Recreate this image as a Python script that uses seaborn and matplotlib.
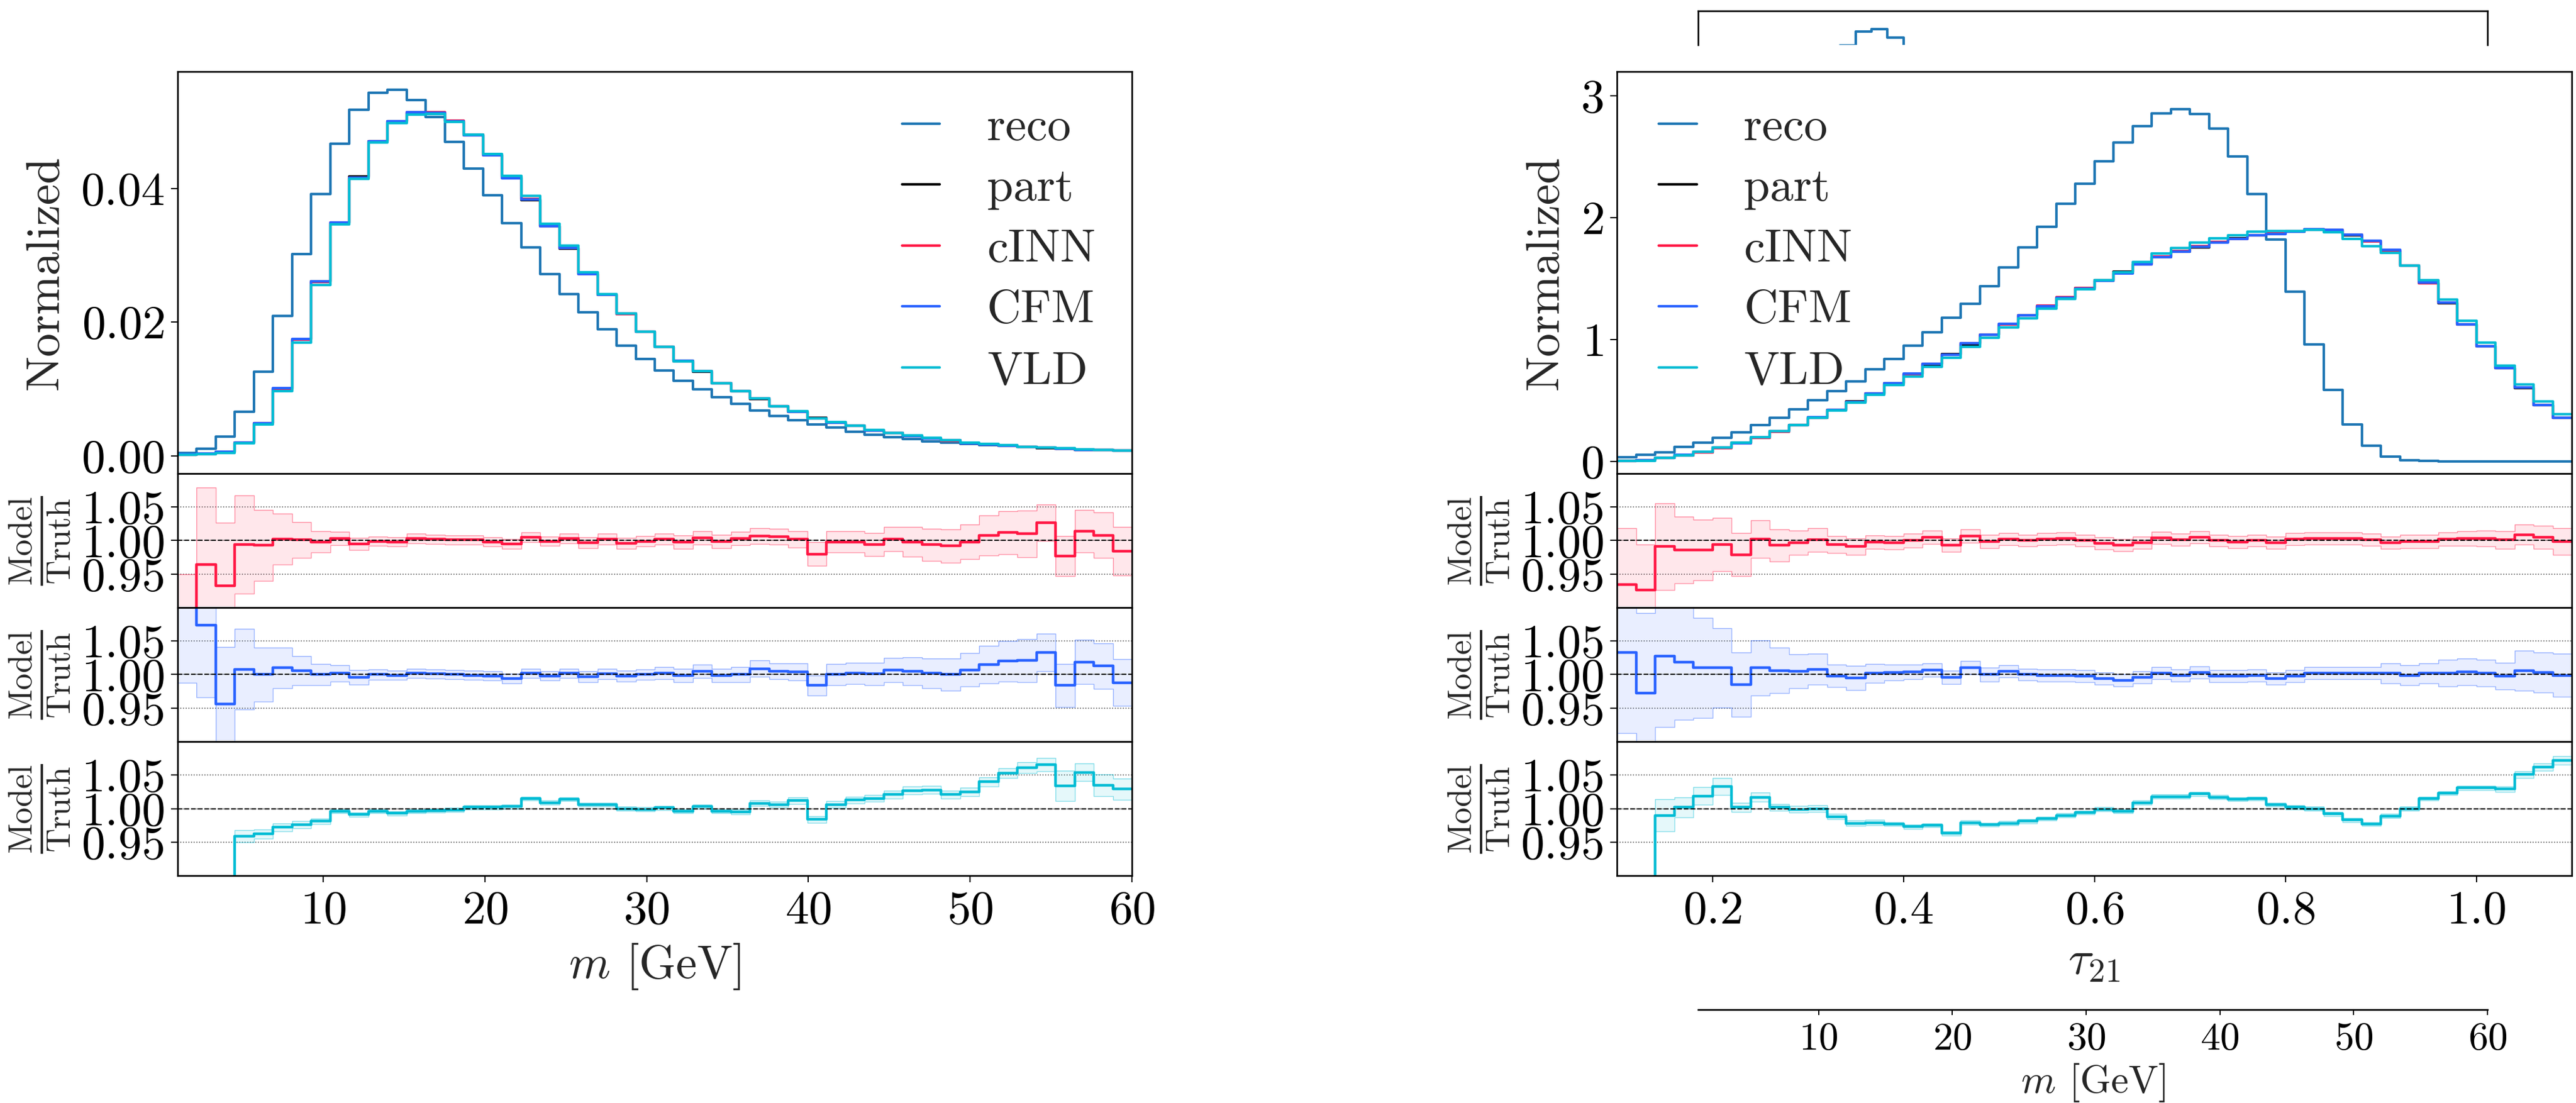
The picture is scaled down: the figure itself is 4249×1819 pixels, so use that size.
import numpy as np
import matplotlib
matplotlib.use("Agg")
import matplotlib.pyplot as plt
import seaborn as sns

# ---------------------------------------------------------------- data
m_edges = np.linspace(1.0, 60.0, 51)
tau_edges = np.linspace(0.1, 1.1, 51)

m_reco = [0.0004, 0.0011, 0.0029, 0.0066, 0.0126, 0.0209, 0.0302, 0.0392, 0.0467, 0.0518,
          0.0543, 0.0548, 0.0532, 0.0507, 0.0470, 0.0430, 0.0390, 0.0348, 0.0312, 0.0272,
          0.0242, 0.0215, 0.0189, 0.0165, 0.0145, 0.0128, 0.0112, 0.0100, 0.0088, 0.0078,
          0.0068, 0.0060, 0.0053, 0.0047, 0.0042, 0.0036, 0.0032, 0.0028, 0.0025, 0.0022,
          0.0020, 0.0018, 0.0016, 0.0015, 0.0013, 0.0012, 0.0011, 0.0009, 0.0009, 0.0008]
m_part = [0.0002, 0.0003, 0.0006, 0.0020, 0.0049, 0.0100, 0.0174, 0.0261, 0.0348, 0.0418,
          0.0471, 0.0501, 0.0513, 0.0513, 0.0501, 0.0480, 0.0451, 0.0418, 0.0383, 0.0344,
          0.0310, 0.0273, 0.0241, 0.0213, 0.0186, 0.0163, 0.0142, 0.0126, 0.0109, 0.0097,
          0.0085, 0.0074, 0.0066, 0.0057, 0.0050, 0.0045, 0.0038, 0.0034, 0.0030, 0.0026,
          0.0023, 0.0019, 0.0017, 0.0015, 0.0013, 0.0012, 0.0011, 0.0009, 0.0009, 0.0008]

m_cinn_ratio = [0.870, 0.964, 0.933, 0.994, 0.993, 1.002, 1.001, 0.998, 1.003, 0.995,
                0.999, 0.998, 1.003, 1.002, 1.001, 1.001, 0.998, 0.995, 1.005, 0.999,
                1.003, 0.997, 1.002, 0.996, 0.999, 1.002, 0.998, 1.004, 0.999, 1.003,
                1.007, 1.006, 1.002, 0.980, 0.998, 0.998, 0.994, 1.002, 0.998, 0.994,
                0.992, 0.998, 1.008, 1.012, 1.010, 1.027, 0.977, 1.014, 1.008, 0.984]
m_cinn_err = [0.080, 0.115, 0.094, 0.073, 0.053, 0.038, 0.027, 0.016, 0.010, 0.009,
              0.007, 0.007, 0.007, 0.007, 0.007, 0.007, 0.007, 0.007, 0.007, 0.007,
              0.007, 0.008, 0.008, 0.008, 0.008, 0.008, 0.010, 0.010, 0.010, 0.010,
              0.012, 0.012, 0.012, 0.018, 0.016, 0.016, 0.017, 0.018, 0.022, 0.024,
              0.025, 0.026, 0.030, 0.032, 0.035, 0.027, 0.030, 0.032, 0.034, 0.036]
m_cfm_ratio = [1.130, 1.074, 0.956, 1.008, 1.000, 1.010, 1.006, 1.000, 1.002, 0.996,
               1.000, 0.999, 1.002, 1.001, 1.000, 0.999, 0.998, 0.994, 1.002, 0.998,
               1.002, 0.997, 1.001, 0.998, 1.000, 1.002, 0.999, 1.005, 0.999, 1.000,
               1.009, 1.005, 1.004, 0.984, 1.000, 1.002, 1.001, 1.007, 1.005, 1.002,
               1.000, 1.007, 1.015, 1.020, 1.021, 1.033, 0.984, 1.019, 1.013, 0.988]
m_cfm_err = [0.142, 0.108, 0.085, 0.060, 0.040, 0.030, 0.022, 0.016, 0.012, 0.011,
             0.008, 0.007, 0.007, 0.007, 0.007, 0.007, 0.007, 0.007, 0.007, 0.007,
             0.007, 0.008, 0.008, 0.008, 0.008, 0.009, 0.010, 0.010, 0.010, 0.011,
             0.012, 0.012, 0.013, 0.015, 0.016, 0.016, 0.017, 0.018, 0.021, 0.022,
             0.024, 0.025, 0.028, 0.030, 0.032, 0.028, 0.032, 0.033, 0.034, 0.035]
m_vld_ratio = [0.700, 0.700, 0.700, 0.959, 0.962, 0.972, 0.976, 0.981, 0.996, 0.991,
               0.996, 0.993, 0.996, 0.997, 0.998, 1.002, 1.002, 1.003, 1.015, 1.009,
               1.014, 1.006, 1.006, 1.000, 0.999, 1.001, 0.996, 1.003, 0.996, 0.995,
               1.008, 1.006, 1.012, 0.984, 1.006, 1.013, 1.015, 1.021, 1.027, 1.028,
               1.021, 1.025, 1.040, 1.053, 1.061, 1.066, 1.034, 1.054, 1.035, 1.029]
m_vld_err = [0.010, 0.010, 0.010, 0.009, 0.007, 0.006, 0.005, 0.004, 0.003, 0.003,
             0.003, 0.003, 0.003, 0.003, 0.003, 0.003, 0.003, 0.003, 0.003, 0.003,
             0.003, 0.003, 0.003, 0.003, 0.003, 0.003, 0.003, 0.003, 0.003, 0.004,
             0.004, 0.004, 0.005, 0.005, 0.005, 0.005, 0.005, 0.006, 0.006, 0.006,
             0.006, 0.006, 0.007, 0.007, 0.008, 0.010, 0.023, 0.013, 0.016, 0.016]

tau_reco = [0.036, 0.056, 0.076, 0.117, 0.152, 0.195, 0.239, 0.299, 0.360, 0.429,
            0.500, 0.576, 0.657, 0.754, 0.843, 0.952, 1.058, 1.178, 1.294, 1.439,
            1.591, 1.756, 1.926, 2.117, 2.277, 2.462, 2.619, 2.754, 2.855, 2.893,
            2.853, 2.734, 2.505, 2.195, 1.820, 1.393, 0.962, 0.589, 0.305, 0.127,
            0.041, 0.010, 0.003, 0.002, 0.001, 0.001, 0.000, 0.000, 0.000, 0.000]
tau_part = [0.005, 0.010, 0.030, 0.051, 0.076, 0.112, 0.152, 0.195, 0.246, 0.297,
            0.360, 0.424, 0.492, 0.558, 0.640, 0.716, 0.797, 0.881, 0.962, 1.041,
            1.122, 1.198, 1.274, 1.345, 1.421, 1.490, 1.558, 1.622, 1.675, 1.723,
            1.756, 1.799, 1.832, 1.858, 1.878, 1.888, 1.901, 1.896, 1.858, 1.807,
            1.731, 1.609, 1.464, 1.299, 1.122, 0.944, 0.766, 0.601, 0.462, 0.360]

tau_cinn_ratio = [0.934, 0.926, 0.991, 0.986, 0.986, 0.994, 0.979, 1.002, 0.993, 0.997,
                  1.001, 0.994, 0.991, 0.998, 0.997, 1.000, 1.005, 0.993, 1.007, 0.999,
                  1.002, 1.000, 1.002, 1.003, 1.000, 0.996, 0.993, 0.997, 1.004, 1.001,
                  1.005, 1.000, 0.998, 1.000, 0.997, 1.002, 1.003, 1.003, 1.003, 1.001,
                  0.997, 0.999, 0.999, 1.002, 1.003, 1.003, 1.001, 1.009, 1.005, 0.999]
tau_cinn_err = [0.085, 0.068, 0.065, 0.050, 0.045, 0.040, 0.032, 0.028, 0.024, 0.018,
                0.018, 0.013, 0.012, 0.010, 0.010, 0.010, 0.010, 0.010, 0.010, 0.010,
                0.009, 0.009, 0.009, 0.009, 0.009, 0.009, 0.009, 0.009, 0.009, 0.009,
                0.009, 0.009, 0.009, 0.009, 0.009, 0.009, 0.009, 0.009, 0.009, 0.009,
                0.009, 0.010, 0.010, 0.010, 0.011, 0.012, 0.013, 0.015, 0.017, 0.020]
tau_cfm_ratio = [1.033, 0.972, 1.028, 1.019, 1.010, 1.010, 0.985, 1.010, 1.006, 1.005,
                 1.008, 0.998, 0.995, 1.002, 1.003, 1.004, 1.007, 0.996, 1.010, 1.000,
                 1.005, 1.000, 0.999, 0.999, 0.998, 0.994, 0.991, 0.996, 1.002, 0.999,
                 1.003, 0.998, 0.998, 0.999, 0.994, 0.998, 1.002, 1.002, 1.002, 1.002,
                 1.002, 0.999, 1.002, 1.002, 1.004, 1.002, 0.998, 1.006, 1.003, 0.999]
tau_cfm_err = [0.120, 0.120, 0.106, 0.086, 0.075, 0.059, 0.048, 0.041, 0.034, 0.025,
               0.023, 0.017, 0.018, 0.014, 0.012, 0.011, 0.010, 0.010, 0.010, 0.010,
               0.009, 0.009, 0.009, 0.009, 0.009, 0.009, 0.009, 0.009, 0.009, 0.009,
               0.009, 0.009, 0.009, 0.009, 0.009, 0.009, 0.009, 0.009, 0.009, 0.009,
               0.015, 0.015, 0.015, 0.020, 0.020, 0.020, 0.020, 0.030, 0.030, 0.032]
tau_vld_ratio = [0.700, 0.700, 0.990, 1.002, 1.019, 1.033, 1.002, 1.017, 1.002, 0.999,
                 1.000, 0.988, 0.978, 0.979, 0.977, 0.973, 0.975, 0.963, 0.979, 0.976,
                 0.978, 0.981, 0.985, 0.990, 0.994, 0.999, 0.996, 1.009, 1.018, 1.018,
                 1.022, 1.017, 1.014, 1.015, 1.006, 1.002, 1.000, 0.992, 0.983, 0.977,
                 0.989, 1.000, 1.015, 1.023, 1.031, 1.031, 1.029, 1.051, 1.062, 1.072]
tau_vld_err = [0.010, 0.010, 0.024, 0.015, 0.013, 0.013, 0.007, 0.007, 0.005, 0.005,
               0.005, 0.004, 0.004, 0.004, 0.003, 0.003, 0.003, 0.003, 0.003, 0.003,
               0.003, 0.003, 0.003, 0.003, 0.003, 0.003, 0.003, 0.003, 0.003, 0.003,
               0.003, 0.003, 0.003, 0.003, 0.003, 0.003, 0.003, 0.003, 0.003, 0.003,
               0.003, 0.003, 0.003, 0.003, 0.003, 0.003, 0.004, 0.005, 0.005, 0.006]

model_names = ["cINN", "CFM", "VLD"]
colors = {"reco": "#1f77b4", "part": "black",
          "cINN": "#ff1744", "CFM": "#2962ff", "VLD": "#00bcd4"}

# ---------------------------------------------------------------- style
sns.set_theme(style="ticks")
plt.rcParams.update({
    "font.family": ["cmr10", "DejaVu Serif"],
    "mathtext.fontset": "cm",
    "axes.formatter.use_mathtext": True,
    "axes.unicode_minus": False,
    "font.size": 56,
    "axes.linewidth": 1.9,
    "axes.edgecolor": "black",
    "xtick.color": "black", "ytick.color": "black",
    "xtick.major.size": 8, "ytick.major.size": 8,
    "xtick.major.width": 1.4, "ytick.major.width": 1.4,
    "xtick.major.pad": 10, "ytick.major.pad": 8,
    "xtick.labelsize": 56, "ytick.labelsize": 56,
    "axes.labelsize": 56,
    "legend.fontsize": 56,
})

FIG_W, FIG_H = 4249, 1819
fig = plt.figure(figsize=(FIG_W / 100, FIG_H / 100), dpi=100)


def px_rect(x0, y0, x1, y1):
    return [x0 / FIG_W, 1 - y1 / FIG_H, (x1 - x0) / FIG_W, (y1 - y0) / FIG_H]


def stairs(ax, edges, vals, **kw):
    vals = np.asarray(vals, dtype=float)
    sns.lineplot(x=edges, y=np.append(vals, vals[-1]), ax=ax, drawstyle="steps-post",
                 estimator=None, sort=False, **kw)


LW_MAIN = 3.0
ROWS = [118, 781, 1002, 1223, 1444]


def panel(x0, x1, edges, xlim, reco, part, ratios, errs, ylim, yticks, xlabel, legend_loc):
    axes = []
    main = fig.add_axes(px_rect(x0, ROWS[0], x1, ROWS[1]), zorder=2)
    axes.append(main)
    for k in range(3):
        axes.append(fig.add_axes(px_rect(x0, ROWS[k + 1], x1, ROWS[k + 2]),
                                 sharex=main, zorder=2))
    part = np.asarray(part)

    stairs(main, edges, reco, color=colors["reco"], lw=LW_MAIN, label="reco")
    stairs(main, edges, part, color=colors["part"], lw=LW_MAIN, label="part")
    for name in model_names:
        stairs(main, edges, part * np.asarray(ratios[name]), color=colors[name],
               lw=LW_MAIN, label=name)
    main.set_xlim(*xlim)
    main.set_ylim(*ylim)
    main.set_yticks(yticks)
    main.set_ylabel("Normalized", labelpad=16)
    main.tick_params(axis="x", bottom=False, labelbottom=False)

    leg_kw = dict(frameon=False, fontsize=56, handlelength=0.8, handletextpad=1.0,
                  labelspacing=0.4, borderpad=0.0, borderaxespad=0.0)
    if legend_loc == "right":
        leg = main.legend(loc="upper right", bbox_to_anchor=(0.962, 0.912), **leg_kw)
    else:
        leg = main.legend(loc="upper left", bbox_to_anchor=(0.044, 0.912), **leg_kw)
    for h in leg.get_lines():
        h.set_linewidth(LW_MAIN)

    for ax, name in zip(axes[1:], model_names):
        r = np.asarray(ratios[name])
        e = np.asarray(errs[name])
        lo = np.append(r - e, (r - e)[-1])
        hi = np.append(r + e, (r + e)[-1])
        ax.fill_between(edges, lo, hi, step="post", color=colors[name], alpha=0.1, lw=0)
        stairs(ax, edges, r - e, color=colors[name], alpha=0.45, lw=1.0)
        stairs(ax, edges, r + e, color=colors[name], alpha=0.45, lw=1.0)
        stairs(ax, edges, r, color=colors[name], lw=3.2)
        ax.axhline(1.0, color="black", ls="--", lw=1.5, zorder=3)
        ax.grid(axis="y", ls=":", color="0.35", lw=1.2)
        ax.set_ylim(0.9, 1.1)
        ax.set_yticks([0.95, 1.0, 1.05])
        ax.set_ylabel(r"$\frac{\mathrm{Model}}{\mathrm{Truth}}$", labelpad=10)
        if ax is not axes[-1]:
            ax.tick_params(axis="x", bottom=False, labelbottom=False)
    axes[-1].set_xlabel(xlabel, labelpad=11)
    return axes


left = panel(293, 1867, m_edges, (1, 60), m_reco, m_part,
             {"cINN": m_cinn_ratio, "CFM": m_cfm_ratio, "VLD": m_vld_ratio},
             {"cINN": m_cinn_err, "CFM": m_cfm_err, "VLD": m_vld_err},
             (-0.00265, 0.0575), [0.0, 0.02, 0.04], r"$m$ [GeV]", "right")
right = panel(2667, 4242, tau_edges, (0.1, 1.1), tau_reco, tau_part,
              {"cINN": tau_cinn_ratio, "CFM": tau_cfm_ratio, "VLD": tau_vld_ratio},
              {"cINN": tau_cinn_err, "CFM": tau_cfm_err, "VLD": tau_vld_err},
              (-0.1, 3.2), [0, 1, 2, 3], r"$\tau_{21}$", "left")
fig.align_ylabels(left)
fig.align_ylabels(right)

# secondary mass frame behind the tau21 panel: top strip and bottom axis
top = fig.add_axes(px_rect(2801, 18, 4103, 74), zorder=1)
top.set_facecolor("none")
stairs(top, m_edges, m_reco, color=colors["reco"], lw=LW_MAIN)
top.set_xlim(1, 60)
top.set_ylim(0.0519, 0.0581)
top.spines["bottom"].set_visible(False)
top.set_xticks([])
top.set_yticks([])
top.set_xlabel("")
top.set_ylabel("")

bottom = fig.add_axes(px_rect(2801, 1664, 4103, 1665), zorder=1)
bottom.set_facecolor("none")
for s in ["top", "left", "right"]:
    bottom.spines[s].set_visible(False)
bottom.set_xlim(1, 60)
bottom.set_yticks([])
bottom.set_xticks([10, 20, 30, 40, 50, 60])
bottom.tick_params(axis="x", length=6.5, labelsize=47, pad=9)
bottom.set_xlabel(r"$m$ [GeV]", fontsize=47, labelpad=5)

fig.savefig("out.png", dpi=100)
